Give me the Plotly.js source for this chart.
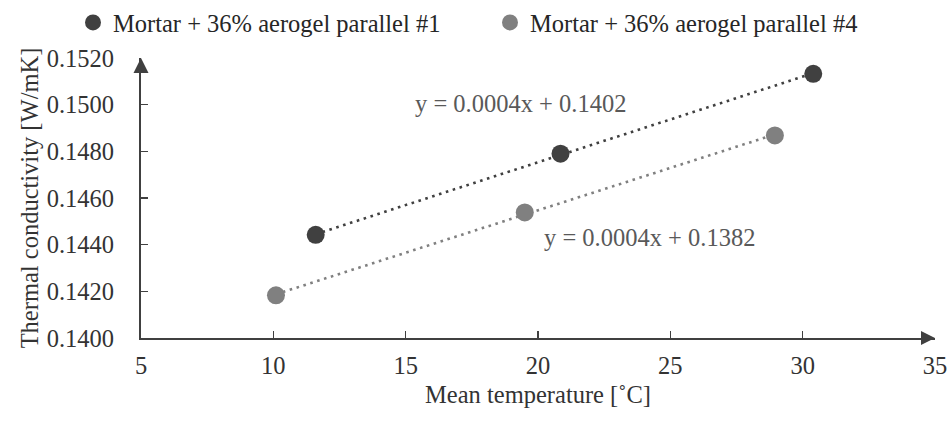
<!DOCTYPE html>
<html>
<head>
<meta charset="utf-8">
<script src="https://cdn.plot.ly/plotly-3.0.1.min.js"></script>
<style>
  html, body { margin: 0; padding: 0; background: #fff; }
  #chart { width: 950px; height: 422px; }
</style>
</head>
<body>
<div id="chart"></div>
<script>
// Measured mean temperature [°C] and thermal conductivity [W/mK]
const seriesNames = ['Mortar + 36% aerogel parallel #1', 'Mortar + 36% aerogel parallel #4'];
const tempP1 = [11.6, 20.85, 30.4];
const condP1 = [0.14442, 0.14790, 0.15132];
const tempP4 = [10.1, 19.5, 28.95];
const condP4 = [0.14183, 0.14538, 0.14868];
const seriesColors = ['#404040', '#808080'];

const xTicks = [5, 10, 15, 20, 25, 30, 35];
const yTicks = [0.140, 0.142, 0.144, 0.146, 0.148, 0.150, 0.152];

const FONT = 'Liberation Serif, Times New Roman, serif';
const FS = 24.5;

// ordinary least-squares fit
function linFit(xs, ys) {
  const n = xs.length;
  const mx = xs.reduce((a, b) => a + b, 0) / n;
  const my = ys.reduce((a, b) => a + b, 0) / n;
  let sxy = 0, sxx = 0;
  for (let i = 0; i < n; i++) {
    sxy += (xs[i] - mx) * (ys[i] - my);
    sxx += (xs[i] - mx) * (xs[i] - mx);
  }
  const slope = sxy / sxx;
  return { slope: slope, intercept: my - slope * mx };
}

function trendTrace(xs, ys, color) {
  const f = linFit(xs, ys);
  const x0 = Math.min(...xs), x1 = Math.max(...xs);
  return {
    fit: f,
    trace: {
      x: [x0, x1],
      y: [f.intercept + f.slope * x0, f.intercept + f.slope * x1],
      mode: 'lines',
      line: { color: color, width: 2.6, dash: '2.6px,4.6px' },
      showlegend: false,
      hoverinfo: 'skip'
    }
  };
}

const t1 = trendTrace(tempP1, condP1, seriesColors[0]);
const t4 = trendTrace(tempP4, condP4, seriesColors[1]);

function eqText(f) {
  return 'y = ' + f.slope.toFixed(4) + 'x + ' + f.intercept.toFixed(4);
}

const data = [
  t1.trace,
  t4.trace,
  {
    x: tempP1, y: condP1, name: seriesNames[0], mode: 'markers', legend: 'legend',
    marker: { color: seriesColors[0], size: 18 }
  },
  {
    x: tempP4, y: condP4, name: seriesNames[1], mode: 'markers', legend: 'legend2',
    marker: { color: seriesColors[1], size: 18 }
  }
];

const axisColor = '#404040';

function legendAt(px) {
  return {
    orientation: 'h',
    xref: 'container', yref: 'container',
    x: px / 950, xanchor: 'left',
    y: 1.0, yanchor: 'top',
    font: { family: FONT, size: FS, color: '#262626' },
    itemwidth: 30,
    bgcolor: 'rgba(0,0,0,0)'
  };
}

const layout = {
  width: 950,
  height: 422,
  margin: { l: 141, r: 15, t: 58, b: 84 },
  paper_bgcolor: '#fff',
  plot_bgcolor: '#fff',
  font: { family: FONT, size: FS, color: '#333' },
  showlegend: true,
  legend: legendAt(73),
  legend2: legendAt(490),
  xaxis: {
    range: [5, 35],
    tickvals: xTicks,
    ticktext: xTicks.map(String),
    ticks: 'inside', ticklen: 7, tickwidth: 1.5, tickcolor: axisColor,
    showline: true, linecolor: axisColor, linewidth: 2,
    showgrid: false, zeroline: false,
    ticklabelstandoff: 5,
    tickfont: { family: FONT, size: FS, color: '#333' },
    title: { text: 'Mean temperature [˚C]', font: { family: FONT, size: FS, color: '#333' }, standoff: 7 }
  },
  yaxis: {
    range: [0.140, 0.152],
    tickvals: yTicks,
    ticktext: yTicks.map(v => v.toFixed(4)),
    ticks: 'inside', ticklen: 7, tickwidth: 1.5, tickcolor: axisColor,
    showline: true, linecolor: axisColor, linewidth: 2,
    showgrid: false, zeroline: false,
    ticklabelstandoff: 20,
    tickfont: { family: FONT, size: FS, color: '#333' },
    title: { text: 'Thermal conductivity [W/mK]', font: { family: FONT, size: FS, color: '#333' }, standoff: 1 }
  },
  annotations: [
    {
      xref: 'x', yref: 'y', x: 19.34, y: 0.15004,
      text: eqText(t1.fit), showarrow: false,
      font: { family: FONT, size: FS, color: '#595959' }
    },
    {
      xref: 'x', yref: 'y', x: 24.23, y: 0.1443,
      text: eqText(t4.fit), showarrow: false,
      font: { family: FONT, size: FS, color: '#595959' }
    }
  ],
  shapes: [
    // arrowhead at the top of the y axis
    {
      type: 'path', xref: 'paper', yref: 'paper', xsizemode: 'pixel', ysizemode: 'pixel',
      xanchor: 0, yanchor: 1,
      path: 'M 0 0 L -7.5 -15 L 7.5 -15 Z',
      fillcolor: axisColor, line: { width: 0 }, layer: 'above'
    },
    // arrowhead at the right end of the x axis
    {
      type: 'path', xref: 'paper', yref: 'paper', xsizemode: 'pixel', ysizemode: 'pixel',
      xanchor: 1, yanchor: 0,
      path: 'M 0 0 L -14 7 L -14 -7 Z',
      fillcolor: axisColor, line: { width: 0 }, layer: 'above'
    }
  ]
};

Plotly.newPlot('chart', data, layout, { staticPlot: true, displayModeBar: false });
</script>
</body>
</html>
